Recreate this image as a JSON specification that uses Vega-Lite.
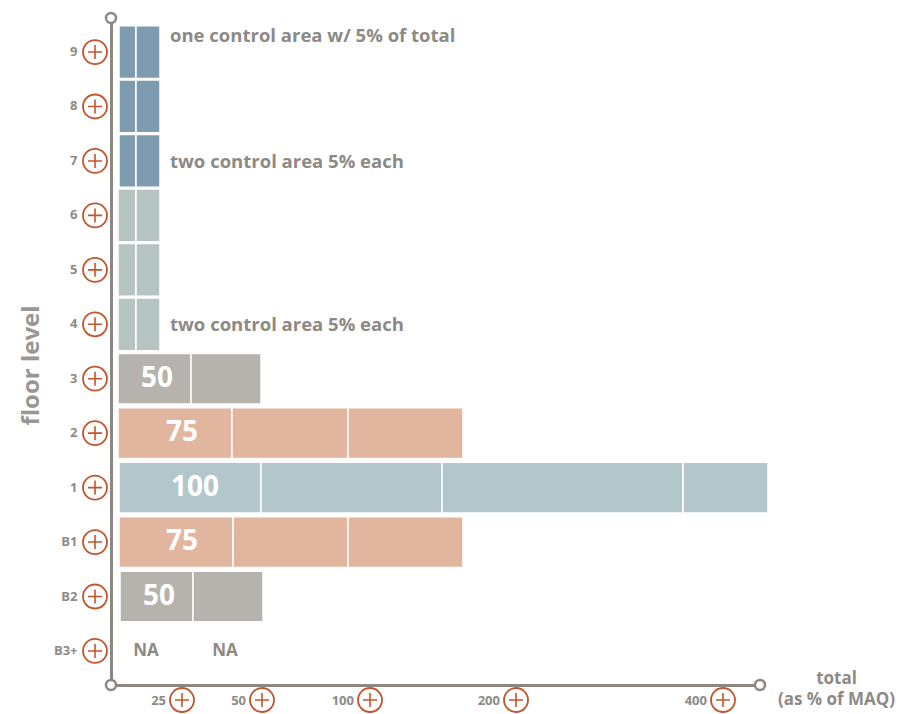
{
  "$schema": "https://vega.github.io/schema/vega-lite/v6.json",
  "width": 649,
  "height": 667,
  "autosize": {"type": "none"},
  "padding": {"left": 111, "top": 18, "right": 145, "bottom": 29},
  "background": "white",
  "config": {
    "view": {"stroke": null},
    "font": "Open Sans",
    "axis": {"grid": false}
  },
  "datasets": {
    "segments": [
      {"floor": "9", "group": "A", "start": 8, "end": 25},
      {"floor": "9", "group": "A", "start": 25, "end": 49},
      {"floor": "8", "group": "A", "start": 8, "end": 25},
      {"floor": "8", "group": "A", "start": 25, "end": 49},
      {"floor": "7", "group": "A", "start": 8, "end": 25},
      {"floor": "7", "group": "A", "start": 25, "end": 49},
      {"floor": "6", "group": "B", "start": 7, "end": 25},
      {"floor": "6", "group": "B", "start": 25, "end": 49},
      {"floor": "5", "group": "B", "start": 7, "end": 25},
      {"floor": "5", "group": "B", "start": 25, "end": 49},
      {"floor": "4", "group": "B", "start": 7, "end": 25},
      {"floor": "4", "group": "B", "start": 25, "end": 49},
      {"floor": "3", "group": "C", "start": 7, "end": 80},
      {"floor": "3", "group": "C", "start": 80, "end": 150},
      {"floor": "2", "group": "D", "start": 7, "end": 121},
      {"floor": "2", "group": "D", "start": 121, "end": 237},
      {"floor": "2", "group": "D", "start": 237, "end": 352},
      {"floor": "1", "group": "E", "start": 8, "end": 150},
      {"floor": "1", "group": "E", "start": 150, "end": 331},
      {"floor": "1", "group": "E", "start": 331, "end": 572},
      {"floor": "1", "group": "E", "start": 572, "end": 657},
      {"floor": "B1", "group": "D", "start": 8, "end": 122},
      {"floor": "B1", "group": "D", "start": 122, "end": 237},
      {"floor": "B1", "group": "D", "start": 237, "end": 352},
      {"floor": "B2", "group": "C", "start": 9, "end": 82},
      {"floor": "B2", "group": "C", "start": 82, "end": 152}
    ],
    "floors": [
      {"floor": "9"}, {"floor": "8"}, {"floor": "7"}, {"floor": "6"},
      {"floor": "5"}, {"floor": "4"}, {"floor": "3"}, {"floor": "2"},
      {"floor": "1"}, {"floor": "B1"}, {"floor": "B2"}, {"floor": "B3+"}
    ],
    "barLabels": [
      {"floor": "3", "pos": 46, "label": "50"},
      {"floor": "2", "pos": 71, "label": "75"},
      {"floor": "1", "pos": 84, "label": "100"},
      {"floor": "B1", "pos": 71, "label": "75"},
      {"floor": "B2", "pos": 48, "label": "50"}
    ],
    "notes": [
      {"floor": "9", "pos": 59, "text": "one control area w/ 5% of total"},
      {"floor": "7", "pos": 59, "text": "two control area 5% each"},
      {"floor": "4", "pos": 59, "text": "two control area 5% each"}
    ],
    "na": [
      {"floor": "B3+", "pos": 35, "text": "NA"},
      {"floor": "B3+", "pos": 114, "text": "NA"}
    ],
    "ticks": [
      {"pos": 71, "label": "25"},
      {"pos": 151, "label": "50"},
      {"pos": 259, "label": "100"},
      {"pos": 405, "label": "200"},
      {"pos": 612, "label": "400"}
    ],
    "ends": [
      {"pos": 0, "v": 1},
      {"pos": 0, "v": 0},
      {"pos": 649, "v": 0}
    ]
  },
  "layer": [
    {
      "encoding": {
        "y": {
          "field": "floor",
          "type": "nominal",
          "title": "floor level",
          "scale": {
            "domain": ["9", "8", "7", "6", "5", "4", "3", "2", "1", "B1", "B2", "B3+"],
            "paddingInner": 0.05,
            "paddingOuter": 0.15
          },
          "axis": {
            "domain": true,
            "domainColor": "#8c8781",
            "domainWidth": 3,
            "ticks": false,
            "tickSize": 0,
            "labelPadding": 34,
            "labelFont": "Open Sans",
            "labelFontWeight": "bold",
            "labelFontSize": 13,
            "labelColor": "#8d8a86",
            "titleFont": "Open Sans",
            "titleFontWeight": "bold",
            "titleFontSize": 24,
            "titleColor": "#9a9792",
            "titlePadding": 10,
            "titleY": 347
          }
        }
      },
      "layer": [
        {
          "data": {"name": "segments"},
          "transform": [{"filter": {"field": "floor", "oneOf": ["9", "8", "7", "6", "5", "4"]}}],
          "mark": {"type": "bar", "height": {"band": 1.02}, "stroke": "white", "strokeWidth": 1.5},
          "encoding": {
            "x": {
              "field": "start",
              "type": "quantitative",
              "title": ["total", "(as % of MAQ)"],
              "scale": {"domain": [0, 649], "nice": false, "zero": false},
              "axis": {
                "domain": true,
                "domainColor": "#8c8781",
                "domainWidth": 3,
                "ticks": false,
                "tickSize": 0,
                "labels": false,
                "titleFont": "Open Sans",
                "titleFontWeight": "bold",
                "titleFontSize": 17,
                "titleColor": "#8d8a86",
                "titleLineHeight": 21,
                "titleX": 725,
                "titleY": -2,
                "titleAlign": "center",
                "titleBaseline": "alphabetic"
              }
            },
            "x2": {"field": "end"},
            "color": {
              "field": "group",
              "type": "nominal",
              "legend": null,
              "scale": {
                "domain": ["A", "B", "C", "D", "E"],
                "range": ["#7f9bb0", "#b6c5c1", "#b6b2ad", "#e1b59e", "#b3c6cc"]
              }
            }
          }
        },
        {
          "data": {"name": "segments"},
          "transform": [{"filter": {"field": "floor", "oneOf": ["3", "2", "1", "B1", "B2"]}}],
          "mark": {"type": "bar", "height": {"band": 0.98}, "stroke": "white", "strokeWidth": 1.5},
          "encoding": {
            "x": {"field": "start", "type": "quantitative"},
            "x2": {"field": "end"},
            "color": {"field": "group", "type": "nominal", "legend": null}
          }
        },
        {
          "data": {"name": "barLabels"},
          "mark": {"type": "text", "font": "Open Sans", "fontWeight": "bold", "fontSize": 28, "color": "white", "align": "center", "baseline": "middle"},
          "encoding": {
            "x": {"field": "pos", "type": "quantitative"},
            "text": {"field": "label"}
          }
        },
        {
          "data": {"name": "notes"},
          "transform": [{"filter": "datum.floor == '9'"}],
          "mark": {"type": "text", "font": "Open Sans", "fontWeight": "bold", "fontSize": 18.5, "color": "#8d8a86", "align": "left", "baseline": "middle", "dy": -16},
          "encoding": {
            "x": {"field": "pos", "type": "quantitative"},
            "text": {"field": "text"}
          }
        },
        {
          "data": {"name": "notes"},
          "transform": [{"filter": "datum.floor != '9'"}],
          "mark": {"type": "text", "font": "Open Sans", "fontWeight": "bold", "fontSize": 18.5, "color": "#8d8a86", "align": "left", "baseline": "middle", "dy": 1},
          "encoding": {
            "x": {"field": "pos", "type": "quantitative"},
            "text": {"field": "text"}
          }
        },
        {
          "data": {"name": "na"},
          "mark": {"type": "text", "font": "Open Sans", "fontWeight": "bold", "fontSize": 17, "color": "#8d8a86", "align": "center", "baseline": "middle"},
          "encoding": {
            "x": {"field": "pos", "type": "quantitative"},
            "text": {"field": "text"}
          }
        },
        {
          "data": {"name": "floors"},
          "mark": {"type": "point", "shape": "circle", "size": 576, "filled": false, "stroke": "#c1552d", "strokeWidth": 1.8, "opacity": 1},
          "encoding": {
            "x": {"datum": -16, "type": "quantitative"}
          }
        },
        {
          "data": {"name": "floors"},
          "mark": {"type": "point", "shape": "M-1,0L1,0M0,-1L0,1", "size": 196, "filled": false, "stroke": "#c1552d", "strokeWidth": 1.6, "opacity": 1},
          "encoding": {
            "x": {"datum": -16, "type": "quantitative"}
          }
        }
      ]
    },
    {
      "encoding": {
        "y": {
          "type": "quantitative",
          "scale": {"domain": [0, 1], "nice": false, "zero": false},
          "axis": null
        }
      },
      "layer": [
        {
          "data": {"name": "ends"},
          "mark": {"type": "point", "shape": "circle", "size": 100, "filled": true, "fill": "white", "stroke": "#8c8781", "strokeWidth": 2.5, "opacity": 1},
          "encoding": {
            "x": {"field": "pos", "type": "quantitative"},
            "y": {"field": "v", "type": "quantitative", "scale": {"domain": [0, 1], "nice": false, "zero": false}, "axis": null}
          }
        },
        {
          "data": {"name": "ticks"},
          "mark": {"type": "point", "shape": "circle", "size": 576, "filled": false, "stroke": "#c1552d", "strokeWidth": 1.8, "opacity": 1},
          "encoding": {
            "x": {"field": "pos", "type": "quantitative"},
            "y": {"datum": -0.0225, "type": "quantitative"}
          }
        },
        {
          "data": {"name": "ticks"},
          "mark": {"type": "point", "shape": "M-1,0L1,0M0,-1L0,1", "size": 196, "filled": false, "stroke": "#c1552d", "strokeWidth": 1.6, "opacity": 1},
          "encoding": {
            "x": {"field": "pos", "type": "quantitative"},
            "y": {"datum": -0.0225, "type": "quantitative"}
          }
        },
        {
          "data": {"name": "ticks"},
          "mark": {"type": "text", "font": "Open Sans", "fontWeight": "bold", "fontSize": 13, "color": "#8d8a86", "align": "right", "baseline": "middle", "dx": -16, "dy": 1},
          "encoding": {
            "x": {"field": "pos", "type": "quantitative"},
            "y": {"datum": -0.0225, "type": "quantitative"},
            "text": {"field": "label"}
          }
        }
      ]
    }
  ],
  "resolve": {"scale": {"y": "independent"}}
}
